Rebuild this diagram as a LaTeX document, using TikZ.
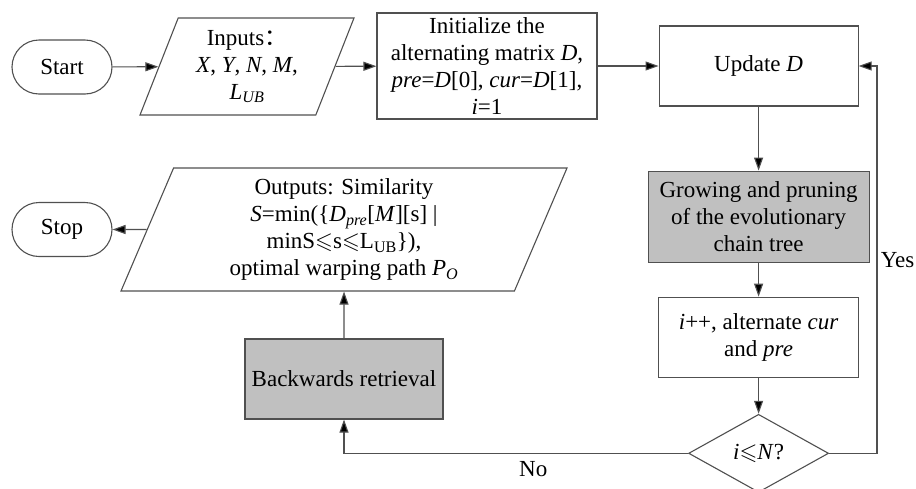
\documentclass[tikz,border=0pt]{standalone}
\usepackage{amsmath,amssymb}
\usepackage{fontspec}
\setmainfont{Liberation Serif}
\newfontfamily\cjk{Noto Sans CJK SC}
\usepackage{xcolor}
\usepackage{tikz}
\usetikzlibrary{arrows.meta,positioning,shapes.geometric,calc}

\definecolor{lineg}{HTML}{505050}
\definecolor{boxg}{HTML}{C0C0C0}

\begin{document}
\begin{tikzpicture}[
  x=1pt, y=-1pt,
  every node/.style={font=\fontsize{23}{27}\selectfont},
  term/.style={draw=lineg, line width=1.1pt, rounded corners=27pt, minimum width=100pt, minimum height=54pt, inner sep=2pt},
  proc/.style={draw=lineg, line width=1.1pt, align=center, inner sep=2pt},
  grey/.style={proc, fill=boxg},
  io/.style={draw=lineg, line width=1.1pt, trapezium, trapezium left angle=63.6, trapezium right angle=116.4, trapezium stretches body, align=center, inner sep=2pt},
  decision/.style={draw=lineg, line width=1.1pt, diamond, aspect=1.8, minimum width=140pt, minimum height=78pt, inner sep=0pt},
  arrow/.style={-{Triangle[length=13pt,width=9pt,fill=black]}, line width=1.1pt, color=lineg},
  lbl/.style={text=black},
]
\useasboundingbox (0,0) rectangle (916,488);

% top row
\node[term] (start) at (62,67) {Start};
\node[io, minimum width=214pt, minimum height=97pt] (inputs) at (247,66.5) {Inputs{\cjk ：}\\\textit{X}, \textit{Y}, \textit{N}, \textit{M},\\\textit{L}\textsubscript{\textit{UB}}};
\node[proc, minimum width=220pt, minimum height=106pt] (init) at (487,66) {Initialize the\\alternating matrix \textit{D},\\\textit{pre}=\textit{D}[0], \textit{cur}=\textit{D}[1],\\\textit{i}=1};
\node[proc, right=61pt of init, minimum width=199pt, minimum height=80pt] (update) {Update \textit{D}};

% loop column
\node[grey, below=64pt of update, minimum width=221pt, minimum height=91pt] (grow) {Growing and pruning\\of the evolutionary\\chain tree};
\node[proc, below=34pt of grow, minimum width=200pt, minimum height=80pt] (incr) {\textit{i}++, alternate \textit{cur}\\and \textit{pre}};
\node[decision, below=36pt of incr] (check) {\textit{i}$\leqslant$\textit{N}?};

% output side
\node[grey, minimum width=198pt, minimum height=80pt] (back) at (344,379) {Backwards retrieval};
\node[io, minimum width=446pt, minimum height=123pt] (outputs) at (344,229.5) {Outputs: Similarity\\\textit{S}=min(\{\textit{D}\textsubscript{\textit{pre}}[\textit{M}][s] |\\minS$\leqslant$s$\leqslant$L\textsubscript{UB}\}),\\optimal warping path \textit{P}\textsubscript{\textit{O}}};
\node[term] (stop) at (62,229.5) {Stop};

\coordinate (yesx) at (877,0);

\draw[arrow] (start) -- (inputs);
\draw[arrow] (inputs) -- (init);
\draw[arrow] (init) -- (update);
\draw[arrow] (update) -- (grow);
\draw[arrow] (grow) -- (incr);
\draw[arrow] (incr) -- (check);
\draw[arrow] (check.east) -- (check.east -| yesx) -- node[lbl, right] {Yes} (update.east -| yesx) -- (update.east);
\draw[arrow] (check.west) -- node[lbl, below=4pt, pos=0.45] {No} (check.west -| back.south) -- (back.south);
\draw[arrow] (back) -- (outputs);
\draw[arrow] (outputs) -- (stop);

\end{tikzpicture}
\end{document}
